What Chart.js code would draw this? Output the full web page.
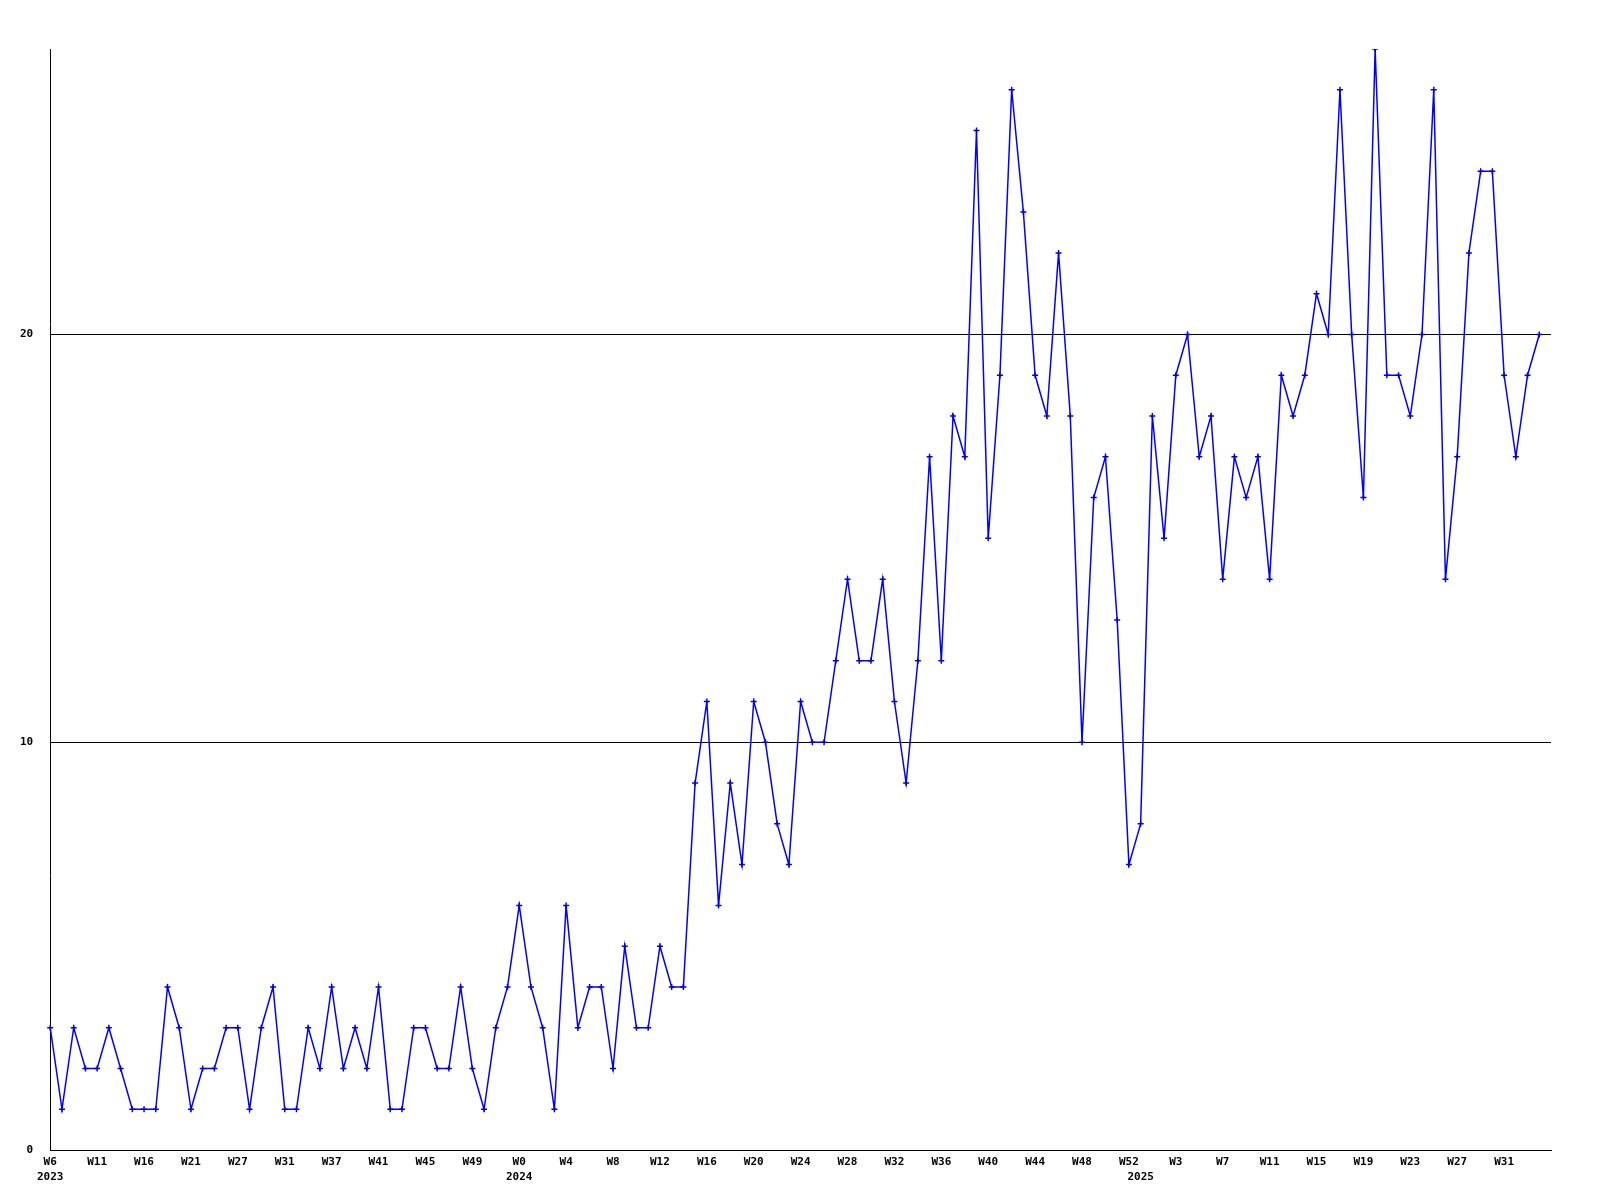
<!DOCTYPE html>
<html>
<head>
<meta charset="utf-8">
<script src="https://cdn.jsdelivr.net/npm/chart.js@4/dist/chart.umd.min.js"></script>
<style>
  html, body { margin: 0; padding: 0; background: #fff; }
  #chart { display: block; }
</style>
</head>
<body>
<canvas id="chart" width="1600" height="1200"></canvas>
<script>
// weekly counts, one per point
const counts = [
  3, 1, 3, 2, 2, 3, 2, 1, 1, 1, 4, 3, 1, 2, 2, 3, 3, 1, 3, 4,
  1, 1, 3, 2, 4, 2, 3, 2, 4, 1, 1, 3, 3, 2, 2, 4, 2, 1, 3, 4,
  6, 4, 3, 1, 6, 3, 4, 4, 2, 5, 3, 3, 5, 4, 4, 9, 11, 6, 9, 7,
  11, 10, 8, 7, 11, 10, 10, 12, 14, 12, 12, 14, 11, 9, 12, 17, 12, 18, 17, 25,
  15, 19, 26, 23, 19, 18, 22, 18, 10, 16, 17, 13, 7, 8, 18, 15, 19, 20, 17, 18,
  14, 17, 16, 17, 14, 19, 18, 19, 21, 20, 26, 20, 16, 27, 19, 19, 18, 20, 26, 14,
  17, 22, 24, 24, 19, 17, 19, 20
];

// a week label every 4th point
const tickLabels = [
  "W6", "W11", "W16", "W21", "W27", "W31", "W37", "W41", "W45", "W49",
  "W0", "W4", "W8", "W12", "W16", "W20", "W24", "W28", "W32", "W36",
  "W40", "W44", "W48", "W52", "W3", "W7", "W11", "W15", "W19", "W23",
  "W27", "W31"
];
const yearLabels = ["2023", "2024", "2025"];
const yearPoints = [0, 40, 93];

const yMax = 27;

window.onload = function() {
  // one extra empty slot so the last point sits short of the right edge
  const labels = [];
  for (let i = 0; i <= counts.length; i++) {
    const week = (i % 4 === 0 && i / 4 < tickLabels.length) ? tickLabels[i / 4] : "";
    const y = yearPoints.indexOf(i);
    labels.push(y >= 0 ? [week, yearLabels[y]] : week);
  }

  Chart.defaults.font.family = "'DejaVu Sans Mono', 'Liberation Mono', monospace";
  Chart.defaults.font.size = 11;
  Chart.defaults.font.weight = "bold";
  Chart.defaults.color = "#000";

  new Chart(document.getElementById("chart").getContext("2d"), {
    type: "line",
    data: {
      labels: labels,
      datasets: [{
        data: counts,
        borderColor: "#0000ff",
        borderWidth: 1.5,
        tension: 0,
        pointStyle: "cross",
        pointRadius: 3,
        pointBorderWidth: 1.5,
        pointBorderColor: "#0000dd",
        pointBackgroundColor: "#0000dd"
      }]
    },
    options: {
      responsive: false,
      animation: false,
      devicePixelRatio: 1,
      layout: { padding: { left: 3, right: 49, top: 49, bottom: 10 } },
      plugins: {
        legend: { display: false },
        tooltip: { enabled: false }
      },
      scales: {
        x: {
          type: "category",
          offset: false,
          grid: { display: true, drawOnChartArea: false, drawTicks: false },
          border: { display: true, color: "#000", width: 1 },
          ticks: {
            autoSkip: false,
            maxRotation: 0,
            minRotation: 0,
            padding: 5,
            font: { lineHeight: 1.36 }
          }
        },
        y: {
          min: 0,
          max: yMax,
          grid: { color: "#000", lineWidth: 1, drawTicks: false },
          border: { display: true, color: "#000", width: 1 },
          ticks: {
            stepSize: 10,
            includeBounds: false,
            padding: 17
          }
        }
      }
    }
  });
};
</script>
</body>
</html>
